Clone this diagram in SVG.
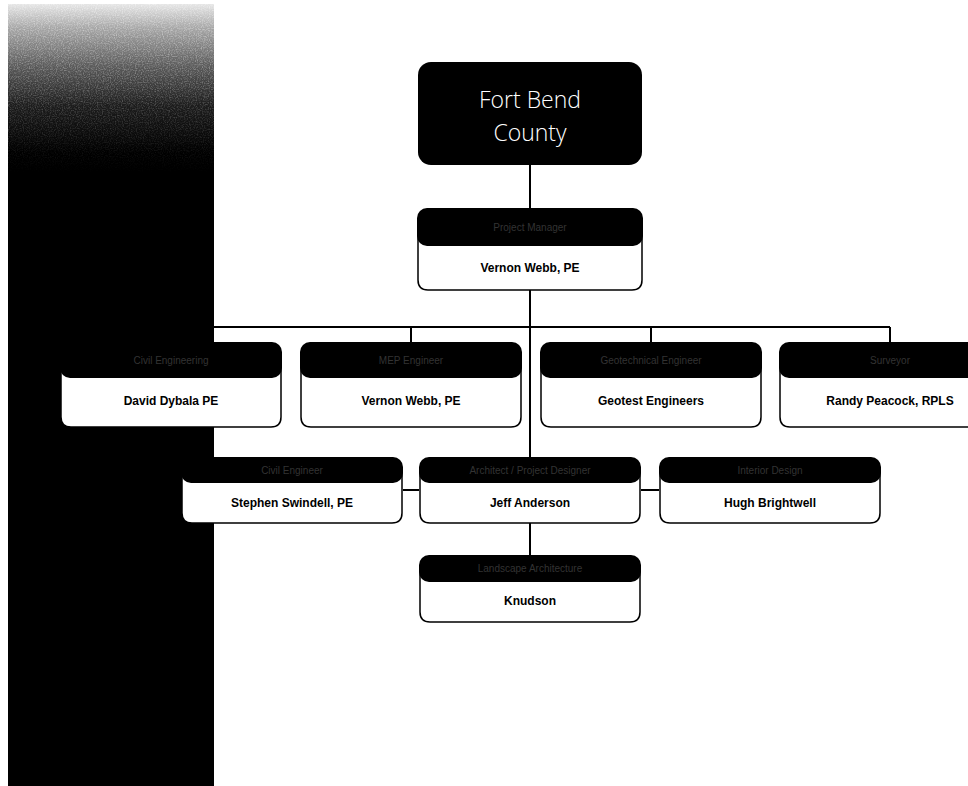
<svg xmlns="http://www.w3.org/2000/svg" width="968" height="786" viewBox="0 0 968 786">
<defs>
<linearGradient id="band" x1="0" y1="0" x2="0" y2="1">
<stop offset="0" stop-color="#e6e6e6"/>
<stop offset="0.03" stop-color="#a8a8a8"/>
<stop offset="0.08" stop-color="#5a5a5a"/>
<stop offset="0.13" stop-color="#1c1c1c"/>
<stop offset="0.19" stop-color="#000"/>
<stop offset="1" stop-color="#000"/>
</linearGradient>
<filter id="grain" x="0" y="0" width="1" height="1">
<feTurbulence type="fractalNoise" baseFrequency="0.85" numOctaves="2" seed="7" result="n"/>
<feColorMatrix in="n" type="matrix" values="0 0 0 0 1  0 0 0 0 1  0 0 0 0 1  0 0 0 -2.4 1.4"/>
</filter>
<linearGradient id="fade" x1="0" y1="0" x2="0" y2="1">
<stop offset="0" stop-color="#fff"/>
<stop offset="0.5" stop-color="#fff" stop-opacity="0.6"/>
<stop offset="1" stop-color="#fff" stop-opacity="0"/>
</linearGradient>
<mask id="fm" maskUnits="userSpaceOnUse" x="8" y="4" width="206" height="170">
<rect x="8" y="4" width="206" height="170" fill="url(#fade)"/>
</mask>
</defs>
<style>
.hdr{fill:#000;}
.body{fill:#fff;stroke:#000;stroke-width:1.5;}
.ht{font-family:"Liberation Sans",Arial,sans-serif;font-size:10px;fill:#333;text-anchor:middle;}
.nm{font-family:"Liberation Sans",Arial,sans-serif;font-size:12px;font-weight:bold;fill:#000;text-anchor:middle;}
.top{font-family:"Open Sans","Liberation Sans",sans-serif;font-weight:300;font-size:23px;fill:#fff;text-anchor:middle;}
.ln{stroke:#000;stroke-width:2;fill:none;}
</style>
<rect width="968" height="786" fill="#fff"/>
<g id="band-bg">
<rect x="8" y="4" width="206" height="782" fill="url(#band)"/>
<rect x="8" y="4" width="206" height="170" fill="#000" filter="url(#grain)" mask="url(#fm)" opacity="0.45"/>
</g>
<g id="connectors">
<path class="ln" d="M530 165 V208"/>
<path class="ln" d="M530 290 V457"/>
<path class="ln" d="M171 327 H890"/>
<path class="ln" d="M171 327 V342 M411 327 V342 M651 327 V342 M890 327 V342"/>
<path class="ln" d="M403 490 H419 M641 490 H659"/>
<path class="ln" d="M530 523 V555"/>
</g>
<g id="n-fortbend">
<rect x="418" y="62" width="224" height="103" rx="13" fill="#000"/>
<text class="top" x="530" y="108">Fort Bend</text>
<text class="top" x="530" y="141">County</text>
</g>
<g id="n-pm">
<path class="body" d="M418 235 H642 V280 Q642 290 632 290 H428 Q418 290 418 280 Z"/>
<rect class="hdr" x="417" y="208" width="226" height="38" rx="10"/>
<text class="ht" x="530" y="231">Project Manager</text>
<text class="nm" x="530" y="272">Vernon Webb, PE</text>
</g>
<g id="n-dybala">
<path class="body" d="M61 368 H281 V417 Q281 427 271 427 H71 Q61 427 61 417 Z"/>
<rect class="hdr" x="60" y="342" width="222" height="36" rx="10"/>
<text class="ht" x="171" y="364">Civil Engineering</text>
<text class="nm" x="171" y="405">David Dybala  PE</text>
</g>
<g id="n-webb2">
<path class="body" d="M301 368 H521 V417 Q521 427 511 427 H311 Q301 427 301 417 Z"/>
<rect class="hdr" x="300" y="342" width="222" height="36" rx="10"/>
<text class="ht" x="411" y="364">MEP Engineer</text>
<text class="nm" x="411" y="405">Vernon Webb, PE</text>
</g>
<g id="n-geotest">
<path class="body" d="M541 368 H761 V417 Q761 427 751 427 H551 Q541 427 541 417 Z"/>
<rect class="hdr" x="540" y="342" width="222" height="36" rx="10"/>
<text class="ht" x="651" y="364">Geotechnical Engineer</text>
<text class="nm" x="651" y="405">Geotest Engineers</text>
</g>
<g id="n-peacock">
<path class="body" d="M780 368 H1000 V417 Q1000 427 990 427 H790 Q780 427 780 417 Z"/>
<rect class="hdr" x="779" y="342" width="222" height="36" rx="10"/>
<text class="ht" x="890" y="364">Surveyor</text>
<text class="nm" x="890" y="405">Randy Peacock, RPLS</text>
</g>
<g id="n-swindell">
<path class="body" d="M182 472 H402 V513 Q402 523 392 523 H192 Q182 523 182 513 Z"/>
<rect class="hdr" x="181" y="457" width="222" height="26" rx="10"/>
<text class="ht" x="292" y="474">Civil Engineer</text>
<text class="nm" x="292" y="507">Stephen Swindell, PE</text>
</g>
<g id="n-anderson">
<path class="body" d="M420 472 H640 V513 Q640 523 630 523 H430 Q420 523 420 513 Z"/>
<rect class="hdr" x="419" y="457" width="222" height="26" rx="10"/>
<text class="ht" x="530" y="474">Architect / Project Designer</text>
<text class="nm" x="530" y="507">Jeff Anderson</text>
</g>
<g id="n-brightwell">
<path class="body" d="M660 472 H880 V513 Q880 523 870 523 H670 Q660 523 660 513 Z"/>
<rect class="hdr" x="659" y="457" width="222" height="26" rx="10"/>
<text class="ht" x="770" y="474">Interior Design</text>
<text class="nm" x="770" y="507">Hugh Brightwell</text>
</g>
<g id="n-knudson">
<path class="body" d="M420 570 H640 V612 Q640 622 630 622 H430 Q420 622 420 612 Z"/>
<rect class="hdr" x="419" y="555" width="222" height="27" rx="10"/>
<text class="ht" x="530" y="572">Landscape Architecture</text>
<text class="nm" x="530" y="605">Knudson</text>
</g>
</svg>
